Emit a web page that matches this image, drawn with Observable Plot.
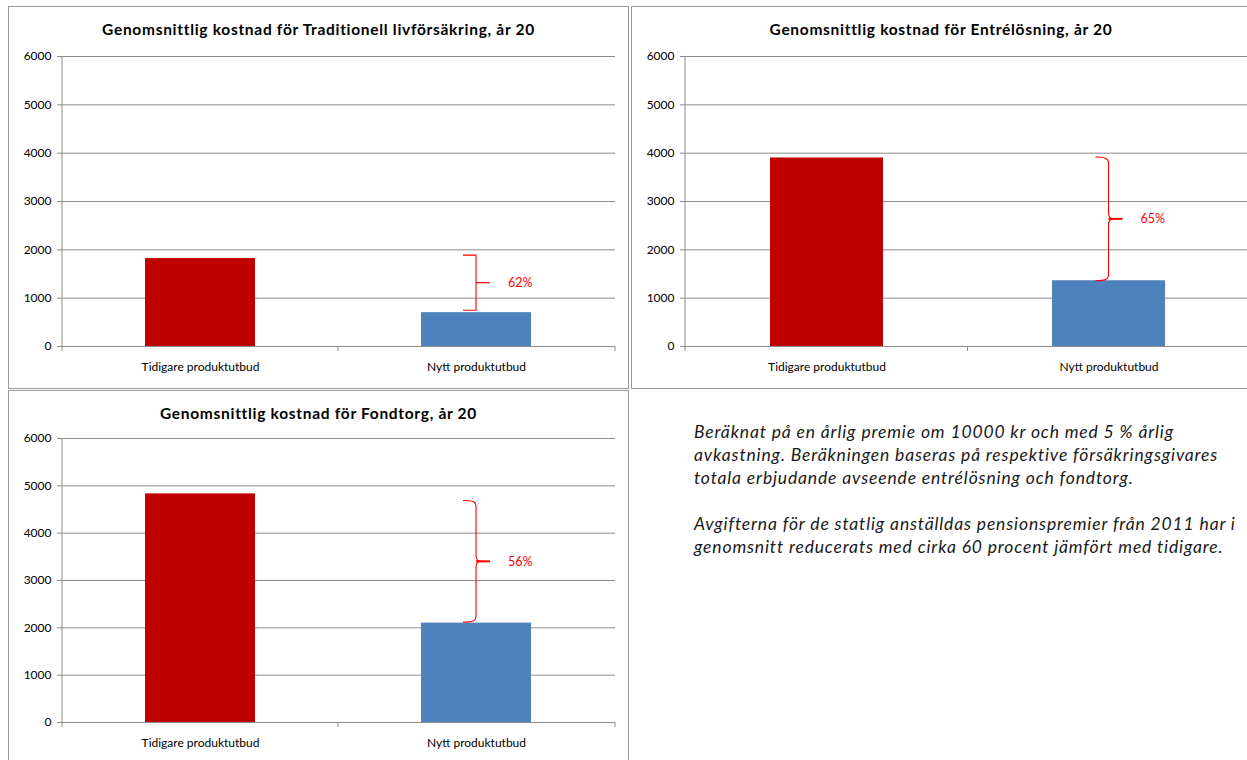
<!DOCTYPE html>
<html>
<head>
<meta charset="utf-8">
<script src="https://cdn.jsdelivr.net/npm/d3@7"></script>
<script src="https://cdn.jsdelivr.net/npm/@observablehq/plot@0.6"></script>
<style>
  html, body { margin: 0; padding: 0; background: #fff; width: 1247px; height: 760px; overflow: hidden; }
  .panel { position: absolute; border: 1px solid #9a9a9a; box-sizing: border-box; background: #fff; }
  .title { position: absolute; left: 0; right: 0; text-align: center; font-family: Lato, sans-serif; font-weight: bold; font-size: 15.5px; letter-spacing: 0.7px; color: #000; }
  .chart { position: absolute; left: 0; max-width: none !important; }
  #note { position: absolute; left: 694px; top: 420px; font-family: Lato, sans-serif; font-style: italic; font-size: 17.5px; letter-spacing: 0.85px; line-height: 23px; color: #1a1a1a; white-space: nowrap; }
</style>
</head>
<body>
<div id="root"></div>
<script>
// ---- data ----
const categories = ["Tidigare produktutbud", "Nytt produktutbud"];
const chartTitles = [
  "Genomsnittlig kostnad för Traditionell livförsäkring, år 20",
  "Genomsnittlig kostnad för Entrélösning, år 20",
  "Genomsnittlig kostnad för Fondtorg, år 20"
];
const tradValues = [1820, 700];
const entreValues = [3900, 1360];
const fondValues = [4830, 2100];
const reductionLabels = ["62%", "65%", "56%"];
const bracketTops = [1880, 3910, 4680];
const bracketBottoms = [740, 1350, 2110];
const yTicks = [0, 1000, 2000, 3000, 4000, 5000, 6000];
const noteLines = [
  "Beräknat på en årlig premie om 10000 kr och med 5 % årlig",
  "avkastning. Beräkningen baseras på respektive försäkringsgivares",
  "totala erbjudande avseende entrélösning och fondtorg.",
  "",
  "Avgifterna för de statlig anställdas pensionspremier från 2011 har i",
  "genomsnitt reducerats med cirka 60 procent jämfört med tidigare."
];

const barColors = ["#C00000", "#4F81BD"];
const gridColor = "#8c8c8c";
const red = "#FF0000";

function makeChart(values, label, bTop, bBottom, curly, width, height, marginBottom) {
  const data = categories.map((c, i) => ({cat: c, value: values[i]}));
  const decor = (index, scales, channels, dimensions) => {
    const x = scales.x, y = scales.y;
    const g = d3.create("svg:g");
    const left = dimensions.marginLeft;
    const right = dimensions.width - dimensions.marginRight;
    const bw = typeof x.bandwidth === "function" ? x.bandwidth() : 0;
    const y0 = y(0);
    // y axis line
    g.append("line").attr("x1", left).attr("x2", left).attr("y1", y(6000)).attr("y2", y0 + 5)
      .attr("stroke", gridColor);
    // category boundary ticks
    const mid = (x(categories[0]) + bw + x(categories[1])) / 2;
    for (const bx of [mid, right]) {
      g.append("line").attr("x1", bx).attr("x2", bx).attr("y1", y0).attr("y2", y0 + 5).attr("stroke", gridColor);
    }
    // bracket
    const cx = x(categories[1]) + bw / 2;
    const yt = y(bTop), yb = y(bBottom), ym = (yt + yb) / 2;
    const w = 13;
    let path;
    if (curly) {
      path = `M${cx - w},${yt} C${cx - 4},${yt} ${cx},${yt + 1} ${cx},${yt + 6}` +
             ` L${cx},${ym - 6} C${cx},${ym - 1} ${cx + 2},${ym} ${cx + 6},${ym}` +
             ` C${cx + 2},${ym} ${cx},${ym + 1} ${cx},${ym + 6}` +
             ` L${cx},${yb - 6} C${cx},${yb - 1} ${cx - 4},${yb} ${cx - w},${yb}`;
    } else {
      path = `M${cx - w},${yt} L${cx},${yt} L${cx},${yb} L${cx - w},${yb}`;
    }
    g.append("path").attr("d", path).attr("fill", "none").attr("stroke", red).attr("stroke-width", 1.1);
    g.append("line").attr("x1", cx).attr("x2", cx + 14).attr("y1", ym).attr("y2", ym)
      .attr("stroke", red).attr("stroke-width", curly ? 2 : 1.2);
    g.append("text").attr("x", cx + 32).attr("y", ym).attr("dy", "0.35em")
      .attr("text-anchor", "start")
      .attr("fill", red).attr("font-size", 12.5).attr("font-family", "Lato, sans-serif").text(label);
    return g.node();
  };
  const svg = Plot.plot({
    width, height,
    marginLeft: 54, marginRight: 14, marginTop: 10, marginBottom,
    style: {fontFamily: "Lato, sans-serif", fontSize: "12px", color: "#000", background: "transparent", maxWidth: "none"},
    x: {domain: categories, paddingInner: 0.6, paddingOuter: 0.3, label: null},
    y: {domain: [0, 6000], label: null},
    color: {domain: categories, range: barColors},
    marks: [
      Plot.ruleY(yTicks, {stroke: gridColor, strokeWidth: 1}),
      Plot.barY(data, {x: "cat", y: "value", fill: "cat"}),
      Plot.axisY(yTicks, {tickSize: 5, tickPadding: 6, tickFormat: d => String(d), stroke: gridColor, fill: "#000", fontSize: 12}),
      Plot.axisX({tickSize: 0, tickPadding: 16, fill: "#000", fontSize: 12}),
      decor
    ]
  });
  svg.style.maxWidth = "none";
  return svg;
}

const root = document.getElementById("root");
function addPanel(left, top, w, h, title, titleTop, chart, chartTop) {
  const p = document.createElement("div");
  p.className = "panel";
  Object.assign(p.style, {left: left + "px", top: top + "px", width: w + "px", height: h + "px"});
  const t = document.createElement("div");
  t.className = "title";
  t.style.top = titleTop + "px";
  t.textContent = title;
  p.appendChild(t);
  chart.classList.add("chart");
  chart.style.top = chartTop + "px";
  chart.style.left = "-1px";
  p.appendChild(chart);
  root.appendChild(p);
}

addPanel(8, 6, 621, 383, chartTitles[0], 13,
  makeChart(tradValues, reductionLabels[0], bracketTops[0], bracketBottoms[0], false, 621, 342, 42), 39);
addPanel(631, 6, 620, 383, chartTitles[1], 13,
  makeChart(entreValues, reductionLabels[1], bracketTops[1], bracketBottoms[1], true, 632, 342, 42), 39);
addPanel(8, 390, 621, 380, chartTitles[2], 13,
  makeChart(fondValues, reductionLabels[2], bracketTops[2], bracketBottoms[2], true, 621, 332, 38), 37);

const note = document.createElement("div");
note.id = "note";
note.innerHTML = noteLines.map(l => l === "" ? "&nbsp;" : l).join("<br>");
document.body.appendChild(note);
</script>
</body>
</html>
